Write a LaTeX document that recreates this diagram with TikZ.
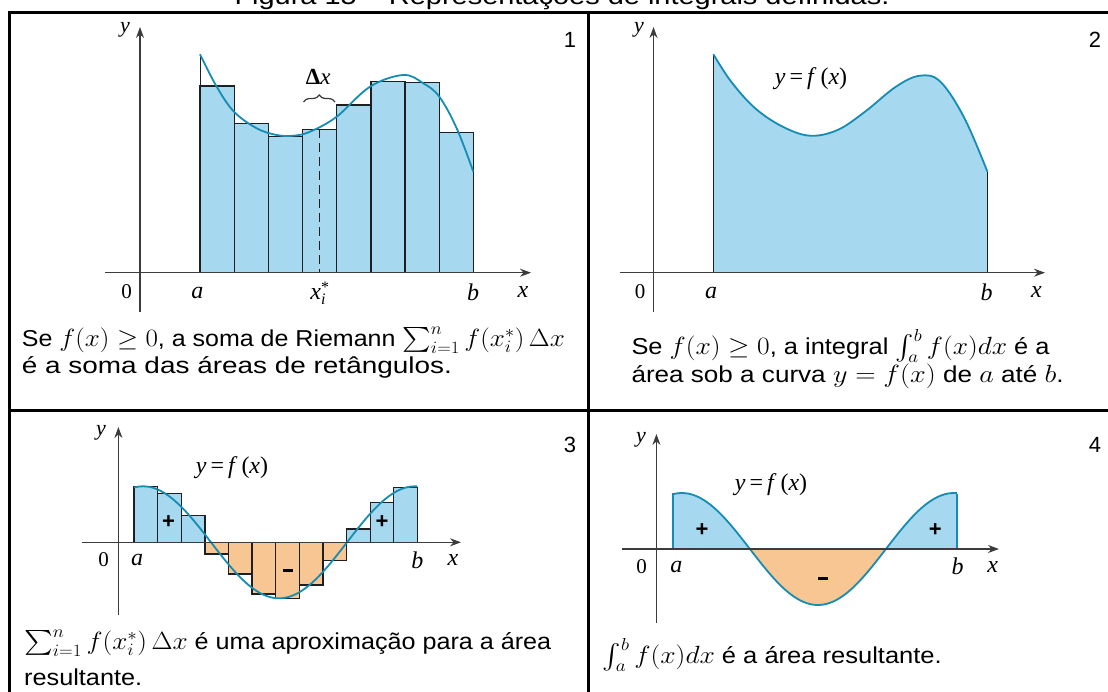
\documentclass[tikz,border=0pt]{standalone}
\usepackage{fontspec}
\usepackage{exscale}
\usepackage{graphicx}
\setmainfont{Liberation Sans}
\newfontfamily\gr{Liberation Serif}
\usetikzlibrary{decorations.pathreplacing,arrows.meta}
\definecolor{fillblue}{RGB}{166,216,240}
\definecolor{curveteal}{RGB}{22,140,178}
\definecolor{fillorange}{RGB}{248,198,146}
\definecolor{axisgray}{RGB}{60,60,60}
\definecolor{bardark}{RGB}{30,30,35}
\newcommand{\capfit}[2]{\resizebox{#1}{\height}{#2}}
\tikzset{
  tbl/.style={line width=3pt, draw=black},
  axisline/.style={draw=axisgray, line width=1.1pt, -{Stealth[length=11pt,width=8pt]}},
  barbox/.style={draw=bardark, line width=1.3pt},
  curveline/.style={draw=curveteal, line width=1.8pt},
  lab/.style={font=\gr\fontsize{24}{24}\selectfont\itshape, inner sep=0pt},
  laby/.style={font=\gr\fontsize{22}{22}\selectfont\itshape, inner sep=0pt},
  labup/.style={font=\gr\fontsize{21}{21}\selectfont, inner sep=0pt},
  fx/.style={font=\gr\fontsize{24}{24}\selectfont, inner sep=0pt},
  numtxt/.style={font=\fontsize{22}{22}\selectfont, inner sep=0pt},
  sgn/.style={font=\bfseries\fontsize{22}{22}\selectfont, inner sep=0pt},
  captxt/.style={font=\fontsize{23}{28}\selectfont, anchor=west, inner sep=0pt},
}
\begin{document}
\begin{tikzpicture}[x=1pt,y=-1pt]
\useasboundingbox (0,0) rectangle (1108,691);
% title (cut by the page edge)
\node[font=\fontsize{25}{25}\selectfont, anchor=base, inner sep=0pt] (title) at (562,4.5) {\capfit{655pt}{Figura 15 -- Representações de integrais definidas.}};
% table frame
\draw[tbl] (9,700) -- (9,12) -- (1115,12);
\draw[tbl] (588,12) -- (588,700);
\draw[tbl] (9,410) -- (1115,410);

% ---------- panel 1 ----------
\foreach \i/\h in {0/86,1/123.3,2/136.7,3/129.3,4/105,5/81.7,6/82.3,7/132.3}
  \filldraw[fill=fillblue,barbox] ({200+34.17*\i},272.7) rectangle ({200+34.17*(\i+1)},\h);
\draw[bardark, line width=0.8pt] (200,86) -- (200,54.3);
\draw[barbox, dash pattern=on 9pt off 5pt] (319.2,129.3) -- (319.2,272.7);
\draw[curveline] plot[smooth,tension=0.6] coordinates {(200,54.3) (216.7,86.7) (234,111.7) (256.7,128.3) (276.7,135) (293.3,135.7) (310,131.7) (336.7,116.7) (370,86.7) (403.3,75) (423.3,83.3) (439.3,96.7) (456.7,128.3) (473.3,171.7)};
\draw[axisline] (105,272.7) -- (531,272.7);
\draw[axisline] (140,311.7) -- (140,27);
\draw[decorate,decoration={brace,amplitude=7pt}, line width=1.2pt, draw=axisgray] (303.5,102) -- (335,102);
\node[font=\gr\fontsize{23}{23}\selectfont, inner sep=0pt] (dx1) at (318.3,76.7) {\textbf{Δ}\textit{x}};
\node[laby] (y1) at (125,30) {y};
\node[labup] (o1) at (126.7,292) {0};
\node[lab] (a1) at (197.3,293) {a};
\node[lab] (xi1) at (318,293) {x\rlap{\raisebox{7pt}{\upshape\fontsize{16}{16}\selectfont *}}\raisebox{-5pt}{\fontsize{16}{16}\selectfont i}};
\node[lab] (b1) at (473,292) {b};
\node[lab] (x1) at (523,292) {x};
\node[numtxt] (n1) at (570,40) {1};
\node[captxt] (c1a) at (21.7,340) {\capfit{543pt}{Se $f(x)\geq 0$, a soma de Riemann $\sum_{i=1}^{n} f(x_i^*)\,\Delta x$}};
\node[captxt] (c1b) at (21.7,367) {\capfit{430pt}{é a soma das áreas de retângulos.}};

% ---------- panel 2 ----------
\fill[fillblue] (713.4,272.7) -- plot[smooth,tension=0.6] coordinates {(713.4,54.3) (731.2,81.7) (755.2,108.3) (782.7,126.7) (810,135.7) (837.5,130) (865,111.7) (895.9,86.7) (919.9,75.7) (940.4,81.7) (964.5,118.3) (987.4,171.7)} -- (987.4,272.7) -- cycle;
\draw[bardark, line width=1pt] (713.4,272.7) -- (713.4,54.3);
\draw[bardark, line width=1pt] (987.4,272.7) -- (987.4,171.7);
\draw[curveline] plot[smooth,tension=0.6] coordinates {(713.4,54.3) (731.2,81.7) (755.2,108.3) (782.7,126.7) (810,135.7) (837.5,130) (865,111.7) (895.9,86.7) (919.9,75.7) (940.4,81.7) (964.5,118.3) (987.4,171.7)};
\draw[axisline] (619.7,272.7) -- (1045,272.7);
\draw[axisline] (653.5,311.7) -- (653.5,27);
\node[laby] (y2) at (639,30) {y};
\node[labup] (o2) at (640,292) {0};
\node[lab] (a2) at (711,293) {a};
\node[lab] (b2) at (986.7,292) {b};
\node[lab] (x2) at (1036.5,292) {x};
\node[fx] (f2) at (811,78.3) {\textit{y}\,=\,\textit{f}\,(\textit{x})};
\node[numtxt] (n2) at (1095,40) {2};
\node[captxt] (c2a) at (631.3,346) {\capfit{418pt}{Se $f(x)\geq 0$, a integral $\int_a^b f(x)dx$ é a}};
\node[captxt] (c2b) at (631.3,376) {\capfit{432pt}{área sob a curva $y=f(x)$ de $a$ até $b$.}};

% ---------- panel 3 ----------
\foreach \i/\h/\c in {0/486.7/fillblue,1/493.3/fillblue,2/515.7/fillblue,3/554/fillorange,4/574/fillorange,5/594/fillorange,6/598.3/fillorange,7/585/fillorange,8/560.7/fillorange,9/529/fillblue,10/502.7/fillblue,11/487.3/fillblue}
  \filldraw[fill=\c,barbox] ({134+23.62*\i},542.3) rectangle ({134+23.62*(\i+1)},\h);
\draw[curveline] plot[domain=134:417.4, samples=90] (\x, {542.3-56*cos((\x-143)/136*180)});
\draw[axisline] (82,542.3) -- (461,542.3);
\draw[axisline] (118.4,615) -- (118.4,427);
\node[laby] (y3) at (101,433) {y};
\node[labup] (o3) at (103.6,560) {0};
\node[lab] (a3) at (137,560) {a};
\node[lab] (b3) at (417.4,560) {b};
\node[lab] (x3) at (453,560) {x};
\node[fx] (f3) at (232,468) {\textit{y}\,=\,\textit{f}\,(\textit{x})};
\node[sgn] (p3a) at (168.6,521.7) {+};
\node[sgn] (p3b) at (382,521.7) {+};
\node[sgn] (m3) at (287.8,570) {\rule{10pt}{3pt}};
\node[numtxt] (n3) at (570,445) {3};
\node[captxt] (c3a) at (24,643) {\capfit{527pt}{$\sum_{i=1}^{n} f(x_i^*)\,\Delta x$ é uma aproximação para a área}};
\node[captxt] (c3b) at (24,677) {\capfit{118pt}{resultante.}};

% ---------- panel 4 ----------
\begin{scope}
  \clip (672.9,420) rectangle (956.9,549);
  \fill[fillblue] (672.9,549) -- plot[domain=672.9:956.9, samples=90] (\x, {549-56*cos((\x-681.9)/136*180)}) -- (956.9,549) -- cycle;
\end{scope}
\begin{scope}
  \clip (672.9,549) rectangle (956.9,640);
  \fill[fillorange] (672.9,549) -- plot[domain=672.9:956.9, samples=90] (\x, {549-56*cos((\x-681.9)/136*180)}) -- (956.9,549) -- cycle;
\end{scope}
\draw[curveteal, line width=1.2pt] (672.9,549) -- (672.9,493.2);
\draw[curveteal, line width=1.2pt] (956.9,549) -- (956.9,493.6);
\draw[curveline] plot[domain=672.9:956.9, samples=90] (\x, {549-56*cos((\x-681.9)/136*180)});
\draw[axisline] (621.5,549) -- (999,549);
\draw[axisline] (656.4,623) -- (656.4,434);
\node[laby] (y4) at (641,440) {y};
\node[labup] (o4) at (641.5,566.7) {0};
\node[lab] (a4) at (676.3,566.7) {a};
\node[lab] (b4) at (957.6,566.7) {b};
\node[lab] (x4) at (992.6,566.7) {x};
\node[fx] (f4) at (771,485) {\textit{y}\,=\,\textit{f}\,(\textit{x})};
\node[sgn] (p4a) at (702,530) {+};
\node[sgn] (p4b) at (935.3,530) {+};
\node[sgn] (m4) at (823,578.3) {\rule{10pt}{3pt}};
\node[numtxt] (n4) at (1095,445) {4};
\node[captxt] (c4a) at (602.6,655) {\capfit{339pt}{$\int_a^b f(x)dx$ é a área resultante.}};
\end{tikzpicture}
\end{document}
